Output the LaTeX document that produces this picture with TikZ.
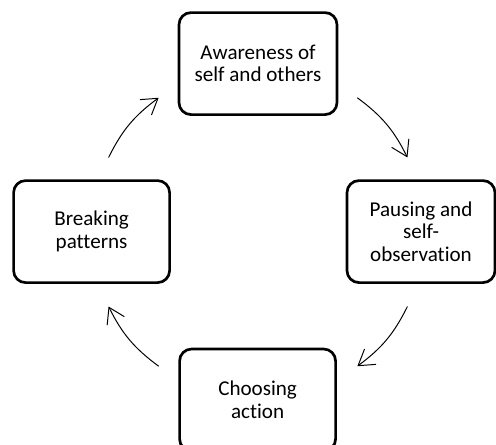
\documentclass[tikz,border=0pt]{standalone}
\usepackage{fontspec}
\setmainfont{Carlito}[Ligatures=NoCommon]
\usetikzlibrary{arrows.meta,calc}

\begin{document}
\begin{tikzpicture}[scale=1, line width=0.7pt,
  caja/.style={draw, line width=1.9pt, rounded corners=0.3cm, fill=white,
    minimum width=3.9cm, minimum height=2.55cm, inner sep=0pt, align=center,
    font=\fontsize{15}{16}\selectfont},
  flecha/.style={-{Straight Barb[length=3.8mm,width=4.8mm]}, line width=0.7pt}]
  \useasboundingbox (0,0) rectangle (12.4,11.1);
  % Cajas del ciclo
  \node[caja, minimum width=3.95cm] (aware) at (6.45,9.51) {Awareness of\\self and others};
  \node[caja, minimum width=3.7cm] (pause) at (10.525,5.31) {Pausing and\\self-\\observation};
  \node[caja] (choose) at (6.44,1.1) {Choosing\\action};
  \node[caja] (breaking) at (2.29,5.31) {Breaking\\patterns};
  % Extremos de las flechas sobre el círculo
  \coordinate (hub) at (6.45,5.3);
  \coordinate (s1) at ($(hub)+(53.5:4.175)$);
  \coordinate (e1) at ($(hub)+(26.5:4.175)$);
  \coordinate (s2) at ($(hub)+(-26.5:4.175)$);
  \coordinate (e2) at ($(hub)+(-53.5:4.175)$);
  \coordinate (s3) at ($(hub)+(233.5:4.175)$);
  \coordinate (e3) at ($(hub)+(206.5:4.175)$);
  \coordinate (s4) at ($(hub)+(153.5:4.175)$);
  \coordinate (e4) at ($(hub)+(126.5:4.175)$);
  % Flechas
  \draw[flecha] (s1) to[bend left=13.5] (e1);
  \draw[flecha] (s2) to[bend left=13.5] (e2);
  \draw[flecha] (s3) to[bend left=13.5] (e3);
  \draw[flecha] (s4) to[bend left=13.5] (e4);
\end{tikzpicture}
\end{document}
